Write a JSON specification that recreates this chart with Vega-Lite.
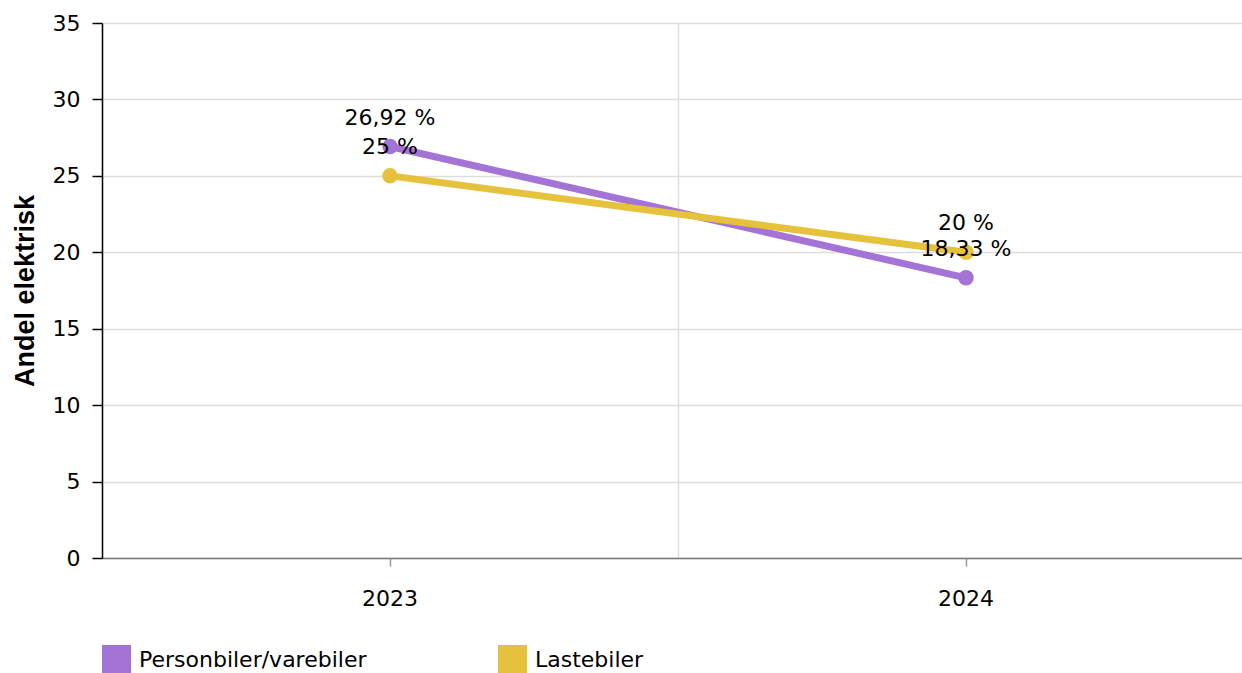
{
  "$schema": "https://vega.github.io/schema/vega-lite/v6.json",
  "autosize": "none",
  "width": 1140,
  "height": 535,
  "padding": {"left": 102, "top": 23, "right": 0, "bottom": 115},
  "background": "white",
  "config": {
    "font": "DejaVu Sans",
    "view": {"stroke": null}
  },
  "data": {
    "values": [
      {"år": "2023", "kategori": "Personbiler/varebiler", "andel": 26.92, "etikett": "26,92 %"},
      {"år": "2024", "kategori": "Personbiler/varebiler", "andel": 18.33, "etikett": "18,33 %"},
      {"år": "2023", "kategori": "Lastebiler", "andel": 25, "etikett": "25 %"},
      {"år": "2024", "kategori": "Lastebiler", "andel": 20, "etikett": "20 %"}
    ]
  },
  "encoding": {
    "y": {
      "field": "andel", "type": "quantitative",
      "scale": {"domain": [0, 35]},
      "axis": {
        "title": "Andel elektrisk", "titleFont": "Liberation Sans", "titleFontSize": 27, "titleFontWeight": "bold", "titleColor": "#000",
        "titlePadding": 13,
        "values": [0, 5, 10, 15, 20, 25, 30, 35],
        "labelFontSize": 22, "labelColor": "#000", "labelPadding": 12,
        "tickSize": 10, "tickColor": "#000", "tickWidth": 1.5,
        "domainColor": "#000", "domainWidth": 1.5,
        "grid": true, "gridColor": "#ddd", "gridWidth": 1.5
      }
    }
  },
  "layer": [
    {
      "mark": {"type": "line", "strokeWidth": 7, "point": {"size": 240, "filled": true, "opacity": 1}},
      "encoding": {
        "x": {
          "field": "år", "type": "nominal",
          "scale": {"type": "band", "range": [0, 1152], "paddingInner": 0, "paddingOuter": 0},
          "axis": {
            "title": null, "labelAngle": 0, "labelFontSize": 22, "labelColor": "#000",
            "labelPadding": 22, "tickSize": 8, "tickColor": "#999", "tickWidth": 1.5,
            "domainColor": "#777", "domainWidth": 1.5, "grid": false
          }
        },
        "color": {
          "field": "kategori", "type": "nominal",
          "scale": {"domain": ["Personbiler/varebiler", "Lastebiler"], "range": ["#a374d5", "#e6c13b"]},
          "legend": {
            "title": null, "orient": "none", "direction": "horizontal",
            "legendX": 0, "legendY": 622,
            "symbolType": "square", "symbolSize": 840, "symbolStrokeWidth": 0,
            "labelFontSize": 22, "labelColor": "#000", "labelOffset": 8, "labelLimit": 500,
            "columnPadding": 131
          }
        },
        "order": {"field": "år"}
      }
    },
    {
      "mark": {"type": "text", "dy": -29, "fontSize": 22, "color": "#000"},
      "encoding": {
        "x": {
          "field": "år", "type": "nominal",
          "axis": {
            "title": null, "labels": false, "ticks": false, "domain": false,
            "grid": true, "gridColor": "#ddd", "gridWidth": 1.5, "bandPosition": 0
          }
        },
        "text": {"field": "etikett"}
      }
    }
  ],
  "resolve": {"axis": {"x": "independent"}}
}
